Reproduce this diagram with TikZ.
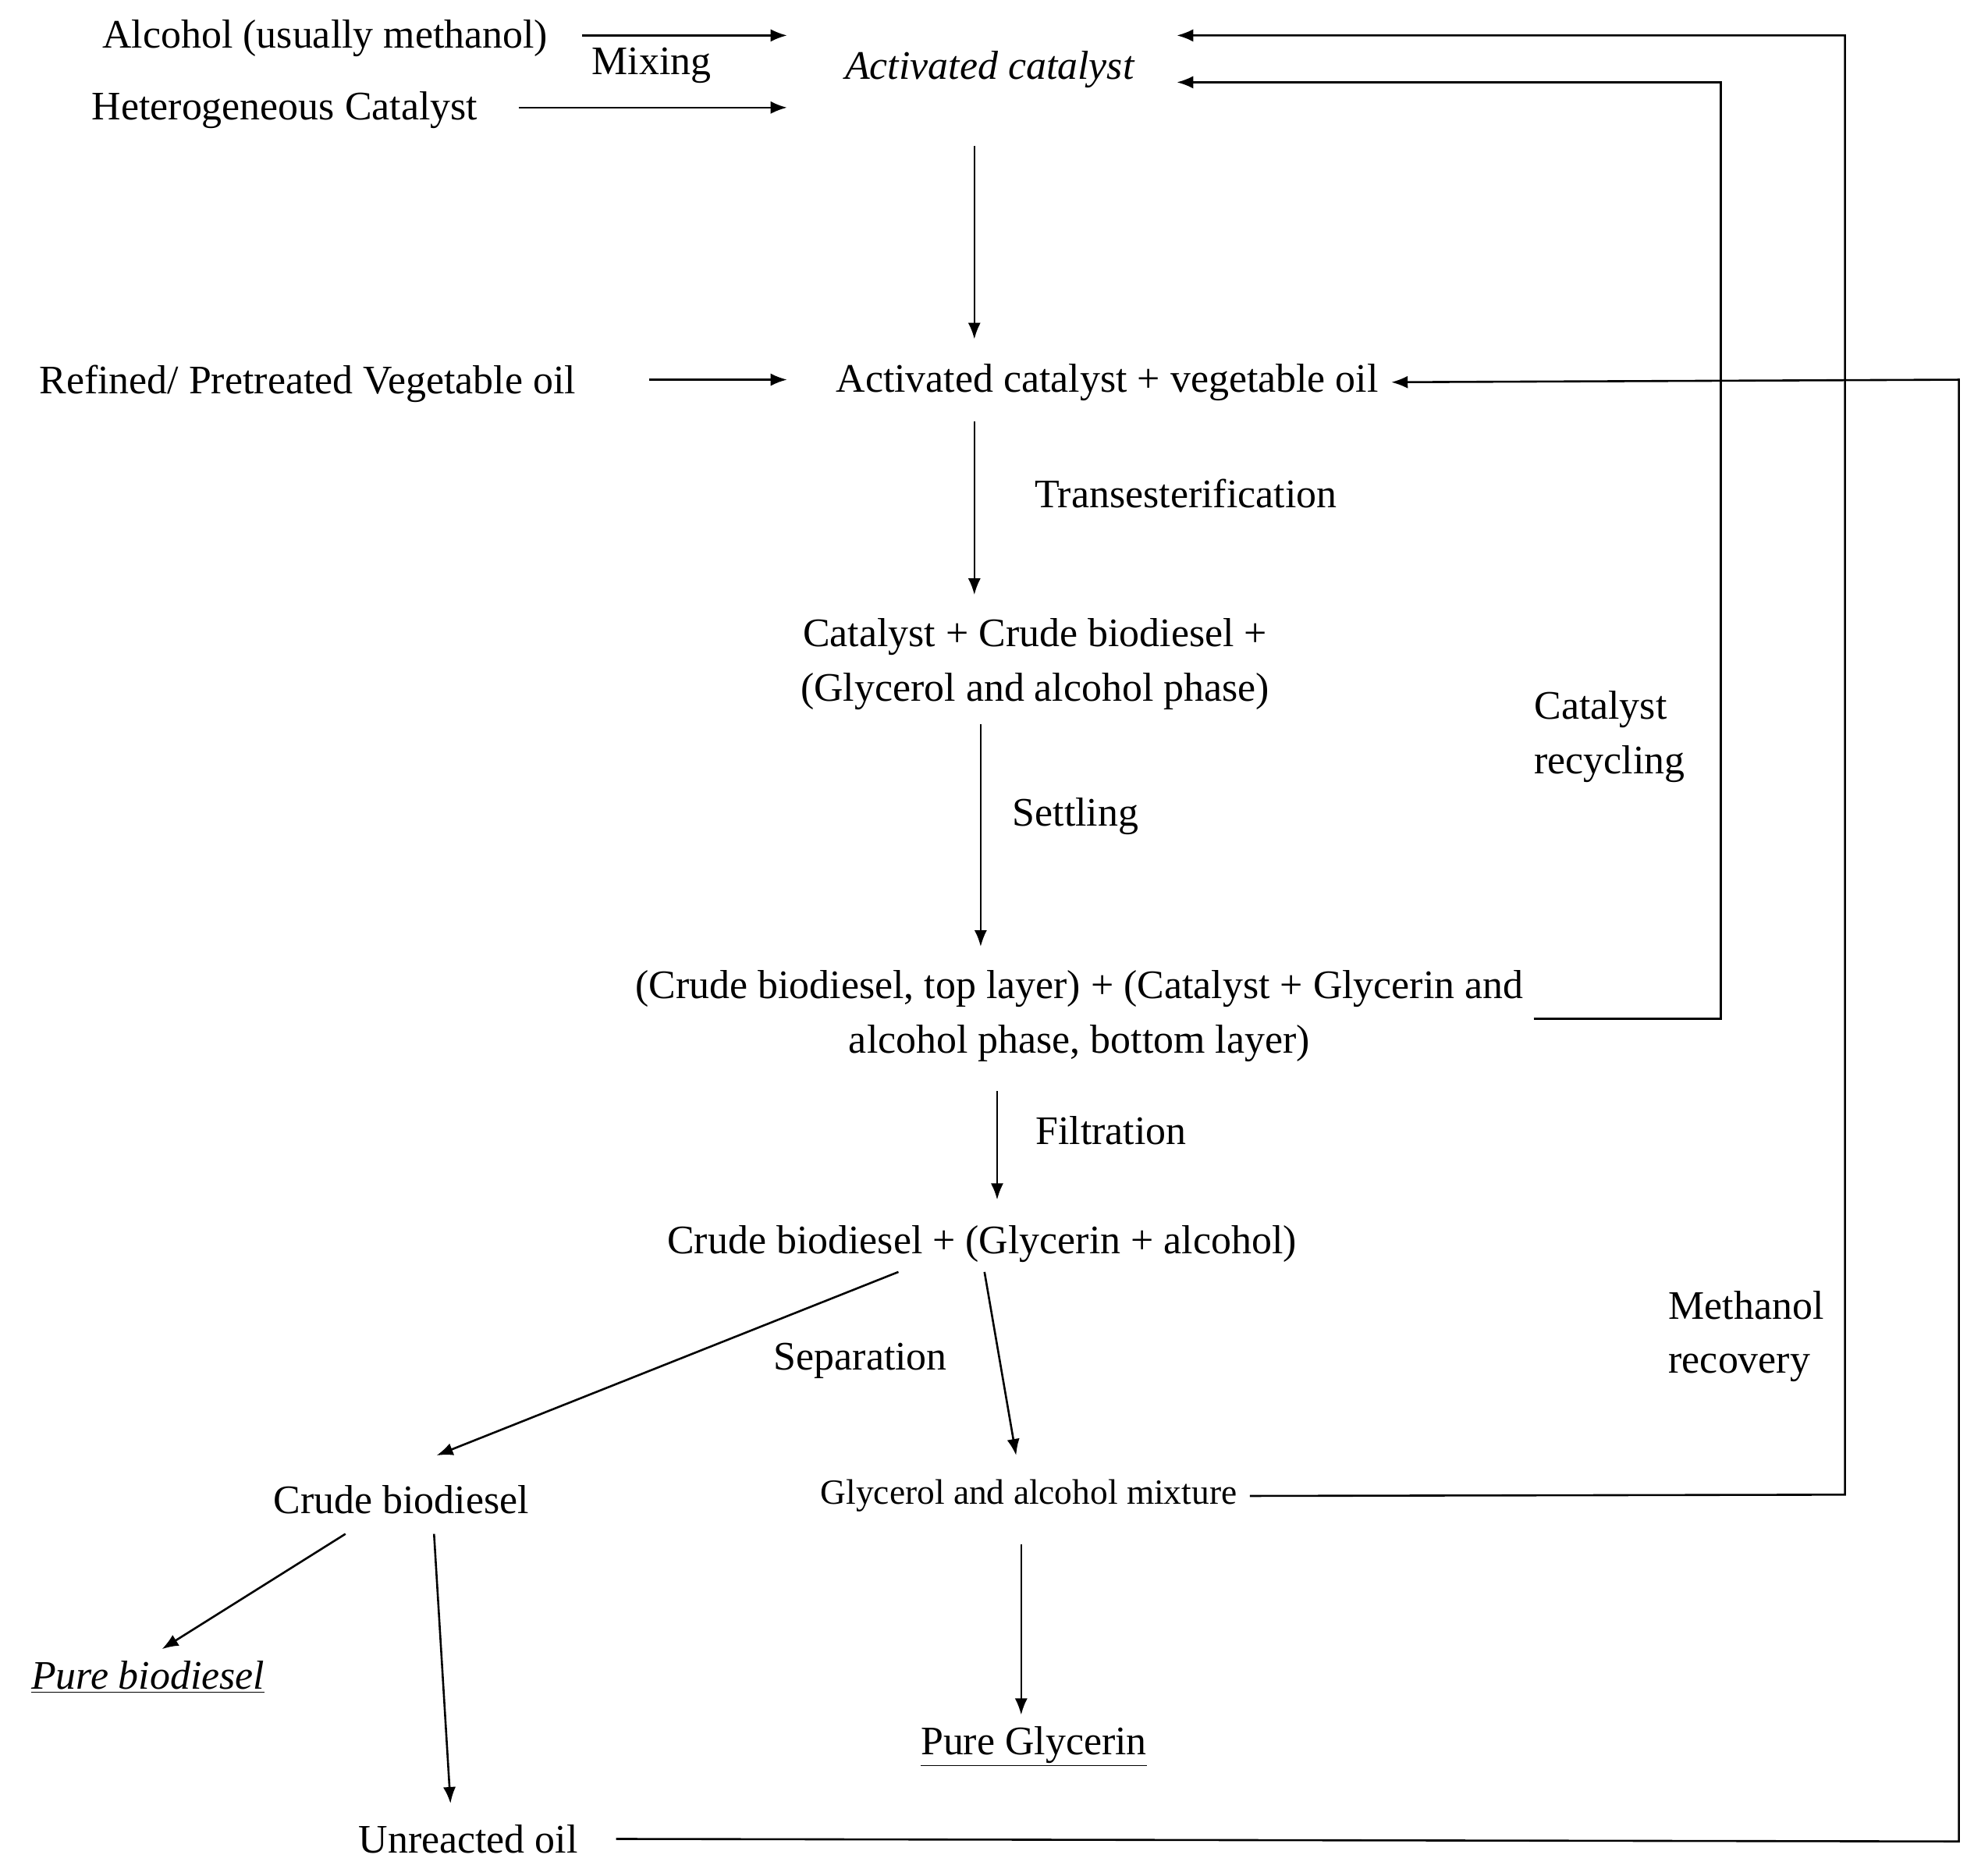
\documentclass[tikz,border=0pt]{standalone}
\usepackage{fontspec}
\setmainfont{Liberation Serif}
\usetikzlibrary{arrows.meta}
\begin{document}
\begin{tikzpicture}[x=1pt,y=-1pt,
  t/.style={font=\fontsize{32}{43}\selectfont,inner sep=0pt,align=center},
  ts/.style={font=\fontsize{28}{38}\selectfont,inner sep=0pt,align=center},
  arr/.style={-{Latex[length=13pt,width=10pt]},line width=1.6pt},
  ln/.style={line width=1.6pt}]
\useasboundingbox (0,0) rectangle (1560,1482);
\node[t] (alc) at (257,30) {Alcohol (usually methanol)};
\node[t] (mix) at (515,52) {Mixing};
\node[t] (het) at (225,87) {Heterogeneous Catalyst};
\node[t,font=\fontsize{32}{43}\selectfont\itshape] (act) at (782,55) {Activated catalyst};
\node[t] (ref) at (243,303) {Refined/ Pretreated Vegetable oil};
\node[t] (aov) at (875,302) {Activated catalyst + vegetable oil};
\node[t] (trans) at (937,390) {Transesterification};
\node[t] (ccb) at (818,525) {Catalyst + Crude biodiesel +\\(Glycerol and alcohol phase)};
\node[t] (set) at (850,645) {Settling};
\node[t] (lay) at (853,803) {(Crude biodiesel, top layer) + (Catalyst + Glycerin and\\alcohol phase, bottom layer)};
\node[t] (fil) at (878,893) {Filtration};
\node[t] (cbg) at (776,983) {Crude biodiesel + (Glycerin + alcohol)};
\node[t] (sep) at (680,1075) {Separation};
\node[t] (cb) at (317,1185) {Crude biodiesel};
\node[ts] (gam) at (813,1182) {Glycerol and alcohol mixture};
\node[t,font=\fontsize{32}{43}\selectfont\itshape] (pb) at (117,1325) {\underline{Pure biodiesel}};
\node[t] (uo) at (370,1453) {Unreacted oil};
\node[t] (pg) at (817,1380) {\underline{Pure Glycerin}};
\node[t,align=left] (cr) at (1272,582) {Catalyst\\recycling};
\node[t,align=left] (mr) at (1380,1056) {Methanol\\recovery};
% coordinates
\coordinate (a1) at (460,28); \coordinate (a2) at (622,28);
\coordinate (h1) at (410,85); \coordinate (h2) at (622,85);
\coordinate (v1) at (770,115); \coordinate (v2) at (770,268);
\coordinate (r1) at (513,300); \coordinate (r2) at (622,300);
\coordinate (t1) at (770,333); \coordinate (t2) at (770,470);
\coordinate (s1) at (775,572); \coordinate (s2) at (775,748);
\coordinate (f1) at (788,862); \coordinate (f2) at (788,948);
\coordinate (p1) at (710,1005); \coordinate (p2) at (345,1150);
\coordinate (q1) at (778,1005); \coordinate (q2) at (803,1150);
\coordinate (b1) at (273,1212); \coordinate (b2) at (128,1303);
\coordinate (u1) at (343,1212); \coordinate (u2) at (356,1425);
\coordinate (g1) at (807,1220); \coordinate (g2) at (807,1355);
\draw[arr] (a1) -- (a2);
\draw[arr] (h1) -- (h2);
\draw[arr] (v1) -- (v2);
\draw[arr] (r1) -- (r2);
\draw[arr] (t1) -- (t2);
\draw[arr] (s1) -- (s2);
\draw[arr] (f1) -- (f2);
\draw[arr] (p1) -- (p2);
\draw[arr] (q1) -- (q2);
\draw[arr] (b1) -- (b2);
\draw[arr] (u1) -- (u2);
\draw[arr] (g1) -- (g2);
% feedback loops
\draw[arr] ([xshift=8pt]lay.east|-0,805) -- (1360,805) -- (1360,65) -- (930,65);
\draw[arr] ([xshift=10pt]gam.east) -- (1458,1181) -- (1458,28) -- (930,28);
\draw[arr] ([xshift=30pt]uo.east) -- (1548,1455) -- (1548,300) -- ([xshift=10pt]aov.east);
\end{tikzpicture}
\end{document}
